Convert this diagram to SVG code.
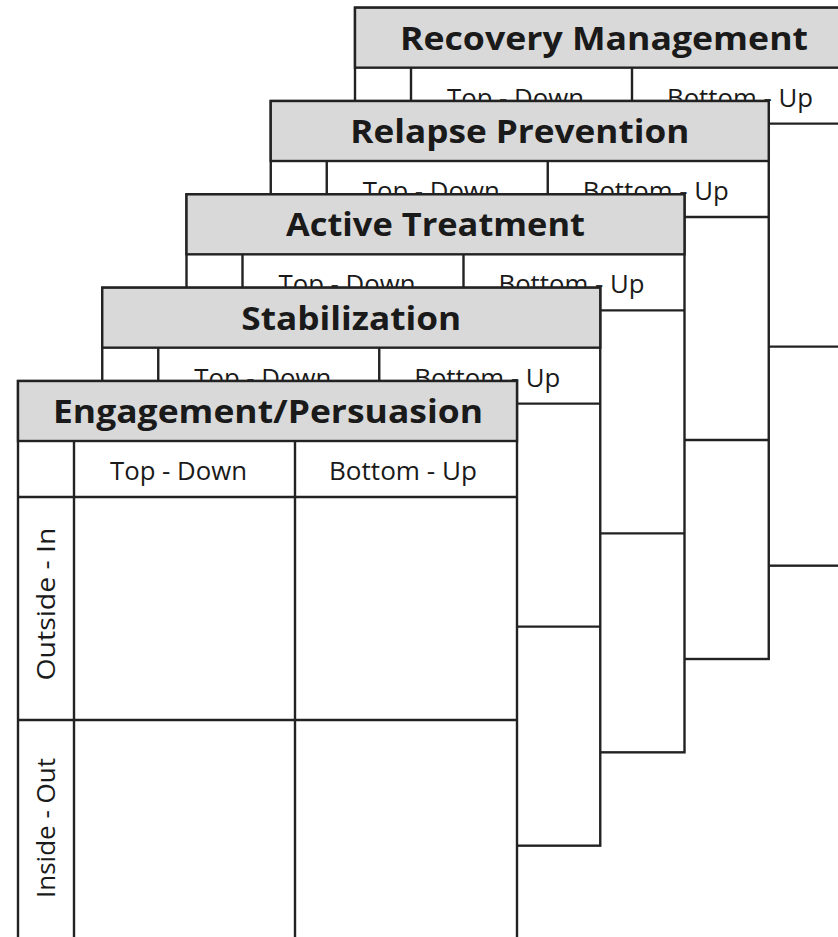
<svg xmlns="http://www.w3.org/2000/svg" width="838" height="937" viewBox="0 0 838 937">
  <style>
    .card { fill: #ffffff; stroke: #222222; stroke-width: 2.4; }
    .head { fill: #d9d9d9; stroke: #222222; stroke-width: 2.4; }
    .ln { stroke: #222222; stroke-width: 2.4; fill: none; }
    .title { font-family: "Open Sans", "Liberation Sans", sans-serif; font-weight: 700; font-size: 32px; fill: #1a1a1a; text-anchor: middle; }
    .sub { font-family: "Open Sans", "Liberation Sans", sans-serif; font-size: 25px; fill: #1a1a1a; text-anchor: middle; }
  </style>
  <rect x="0" y="0" width="838" height="937" fill="#ffffff"/>

  <g id="card-recovery-management" transform="translate(355,7.67)">
    <rect class="card" x="0" y="0" width="498" height="558"/>
    <rect class="head" x="0" y="0" width="498" height="60"/>
    <line class="ln" x1="0" y1="116" x2="498" y2="116"/>
    <line class="ln" x1="0" y1="339" x2="498" y2="339"/>
    <line class="ln" x1="56" y1="60" x2="56" y2="558"/>
    <line class="ln" x1="277" y1="60" x2="277" y2="558"/>
    <text class="title" x="249" y="42" textLength="408" lengthAdjust="spacingAndGlyphs">Recovery Management</text>
    <text class="sub" x="160.5" y="99" textLength="137" lengthAdjust="spacingAndGlyphs">Top - Down</text>
    <text class="sub" x="385" y="99" textLength="146" lengthAdjust="spacingAndGlyphs">Bottom - Up</text>
  </g>

  <g id="card-relapse-prevention" transform="translate(270.75,101)">
    <rect class="card" x="0" y="0" width="498" height="558"/>
    <rect class="head" x="0" y="0" width="498" height="60"/>
    <line class="ln" x1="0" y1="116" x2="498" y2="116"/>
    <line class="ln" x1="0" y1="339" x2="498" y2="339"/>
    <line class="ln" x1="56" y1="60" x2="56" y2="558"/>
    <line class="ln" x1="277" y1="60" x2="277" y2="558"/>
    <text class="title" x="249" y="42" textLength="339" lengthAdjust="spacingAndGlyphs">Relapse Prevention</text>
    <text class="sub" x="160.5" y="99" textLength="137" lengthAdjust="spacingAndGlyphs">Top - Down</text>
    <text class="sub" x="385" y="99" textLength="146" lengthAdjust="spacingAndGlyphs">Bottom - Up</text>
  </g>

  <g id="card-active-treatment" transform="translate(186.5,194.33)">
    <rect class="card" x="0" y="0" width="498" height="558"/>
    <rect class="head" x="0" y="0" width="498" height="60"/>
    <line class="ln" x1="0" y1="116" x2="498" y2="116"/>
    <line class="ln" x1="0" y1="339" x2="498" y2="339"/>
    <line class="ln" x1="56" y1="60" x2="56" y2="558"/>
    <line class="ln" x1="277" y1="60" x2="277" y2="558"/>
    <text class="title" x="249" y="42" textLength="299" lengthAdjust="spacingAndGlyphs">Active Treatment</text>
    <text class="sub" x="160.5" y="99" textLength="137" lengthAdjust="spacingAndGlyphs">Top - Down</text>
    <text class="sub" x="385" y="99" textLength="146" lengthAdjust="spacingAndGlyphs">Bottom - Up</text>
  </g>

  <g id="card-stabilization" transform="translate(102.25,287.67)">
    <rect class="card" x="0" y="0" width="498" height="558"/>
    <rect class="head" x="0" y="0" width="498" height="60"/>
    <line class="ln" x1="0" y1="116" x2="498" y2="116"/>
    <line class="ln" x1="0" y1="339" x2="498" y2="339"/>
    <line class="ln" x1="56" y1="60" x2="56" y2="558"/>
    <line class="ln" x1="277" y1="60" x2="277" y2="558"/>
    <text class="title" x="249" y="42" textLength="220" lengthAdjust="spacingAndGlyphs">Stabilization</text>
    <text class="sub" x="160.5" y="99" textLength="137" lengthAdjust="spacingAndGlyphs">Top - Down</text>
    <text class="sub" x="385" y="99" textLength="146" lengthAdjust="spacingAndGlyphs">Bottom - Up</text>
  </g>

  <g id="card-engagement-persuasion" transform="translate(18,381)">
    <rect class="card" x="0" y="0" width="499" height="560"/>
    <rect class="head" x="0" y="0" width="499" height="60"/>
    <line class="ln" x1="0" y1="116" x2="499" y2="116"/>
    <line class="ln" x1="0" y1="339" x2="499" y2="339"/>
    <line class="ln" x1="56" y1="60" x2="56" y2="560"/>
    <line class="ln" x1="277" y1="60" x2="277" y2="560"/>
    <text class="title" x="250" y="42" textLength="430" lengthAdjust="spacingAndGlyphs">Engagement/Persuasion</text>
    <text class="sub" x="160.5" y="99" textLength="137" lengthAdjust="spacingAndGlyphs">Top - Down</text>
    <text class="sub" x="385" y="99" textLength="148" lengthAdjust="spacingAndGlyphs">Bottom - Up</text>
    <text class="sub" transform="translate(37,223) rotate(-90)" x="0" y="0" textLength="153" lengthAdjust="spacingAndGlyphs">Outside - In</text>
    <text class="sub" transform="translate(37,447) rotate(-90)" x="0" y="0" textLength="140" lengthAdjust="spacingAndGlyphs">Inside - Out</text>
  </g>

  <g id="connectors"/>
</svg>
